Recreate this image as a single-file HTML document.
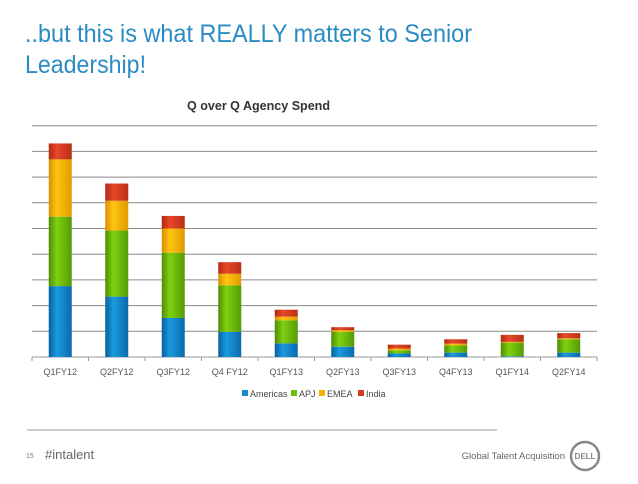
<!DOCTYPE html>
<html><head><meta charset="utf-8"><style>
body{margin:0;width:638px;height:479px;overflow:hidden;background:#fff;font-family:"Liberation Sans",sans-serif}
</style></head><body>
<svg id="svg" width="638" height="479" xmlns="http://www.w3.org/2000/svg">
<defs>
<linearGradient id="gB" x1="0" x2="1"><stop offset="0" stop-color="#0a5f9c"/><stop offset="0.35" stop-color="#1a9ae0"/><stop offset="1" stop-color="#0a6aac"/></linearGradient>
<linearGradient id="gG" x1="0" x2="1"><stop offset="0" stop-color="#4f8c06"/><stop offset="0.35" stop-color="#7fd10e"/><stop offset="1" stop-color="#559a08"/></linearGradient>
<linearGradient id="gO" x1="0" x2="1"><stop offset="0" stop-color="#d98f00"/><stop offset="0.35" stop-color="#ffc510"/><stop offset="1" stop-color="#e09a00"/></linearGradient>
<linearGradient id="gR" x1="0" x2="1"><stop offset="0" stop-color="#b02a10"/><stop offset="0.35" stop-color="#e8472a"/><stop offset="1" stop-color="#b83015"/></linearGradient>
</defs>
<text x="25" y="42" font-size="25" fill="#2a8cc4" textLength="447" lengthAdjust="spacingAndGlyphs">..but this is what REALLY matters to Senior</text>
<text x="25" y="73" font-size="25" fill="#2a8cc4" textLength="121" lengthAdjust="spacingAndGlyphs">Leadership!</text>
<text x="187" y="110" font-size="13" font-weight="bold" fill="#333" textLength="143" lengthAdjust="spacingAndGlyphs">Q over Q Agency Spend</text>
<g id="plot"></g>
<g font-size="9" fill="#444">
<rect x="242" y="390" width="6" height="6" fill="#1a8ad0"/><text x="250" y="397">Americas</text>
<rect x="291" y="390" width="6" height="6" fill="#6cbf0c"/><text x="299" y="397">APJ</text>
<rect x="319" y="390" width="6" height="6" fill="#f5b400"/><text x="327" y="397">EMEA</text>
<rect x="358" y="390" width="6" height="6" fill="#d43a20"/><text x="366" y="397">India</text>
</g>
<line x1="27" y1="430" x2="497" y2="430" stroke="#999" stroke-width="1"/>
<text x="26" y="458" font-size="7" fill="#777">15</text>
<text x="45" y="459" font-size="13" fill="#666">#intalent</text>
<text x="565" y="459" font-size="9.5" fill="#666" text-anchor="end">Global Talent Acquisition</text>
<g>
<circle cx="585" cy="456" r="14" fill="none" stroke="#888" stroke-width="2.5"/>
<text x="585" y="459" font-size="8" font-weight="bold" fill="#888" text-anchor="middle">DELL</text>
</g>
</svg>
<script>
const categories=["Q1FY12","Q2FY12","Q3FY12","Q4 FY12","Q1FY13","Q2FY13","Q3FY13","Q4FY13","Q1FY14","Q2FY14"];
const americas=[2.76,2.35,1.52,0.98,0.53,0.40,0.14,0.17,0.03,0.17];
const apj=[2.70,2.57,2.54,1.81,0.90,0.58,0.12,0.28,0.53,0.52];
const emea=[2.23,1.16,0.94,0.45,0.14,0.06,0.07,0.07,0.03,0.04];
const india=[0.62,0.67,0.49,0.45,0.27,0.12,0.15,0.17,0.27,0.20];
const gridTicks=[1,2,3,4,5,6,7,8,9];
const NS="http://www.w3.org/2000/svg";
const plot=document.getElementById('plot');
const X0=32,X1=597,BASE=357,UNIT=25.7,BW=23;
const step=(X1-X0)/categories.length;
const xC=i=>X0+step*(i+0.5);
const yS=v=>BASE-v*UNIT;
function mk(t,a){const e=document.createElementNS(NS,t);for(const k in a)e.setAttribute(k,a[k]);plot.appendChild(e);return e;}
gridTicks.forEach(t=>{
 const l=mk('line',{x1:X0,x2:X1,y1:yS(t),y2:yS(t),stroke:'#8a8a8a','stroke-width':1});
 
 
});
const ax=mk('line',{x1:X0,x2:X1,y1:BASE,y2:BASE,stroke:'#999','stroke-width':1});


for(let i=0;i<=categories.length;i++){
 const t=mk('line',{x1:X0+step*i,x2:X0+step*i,y1:BASE,y2:BASE+4,stroke:'#999'});
 
 
}
const series=[[americas,'url(#gB)','americas'],[apj,'url(#gG)','apj'],[emea,'url(#gO)','emea'],[india,'url(#gR)','india']];
categories.forEach((c,i)=>{
 let acc=0;
 series.forEach(([arr,fill,nm])=>{
  const v=arr[i];
  const r=mk('rect',{x:xC(i)-BW/2,y:yS(acc+v),width:BW,height:v*UNIT,fill:fill});
  
  
  acc+=v;
 });
 const tx=mk('text',{x:xC(i),y:375,'font-size':9,fill:'#555','text-anchor':'middle'});
 tx.textContent=c;
 
 
});
</script>
</body></html>
